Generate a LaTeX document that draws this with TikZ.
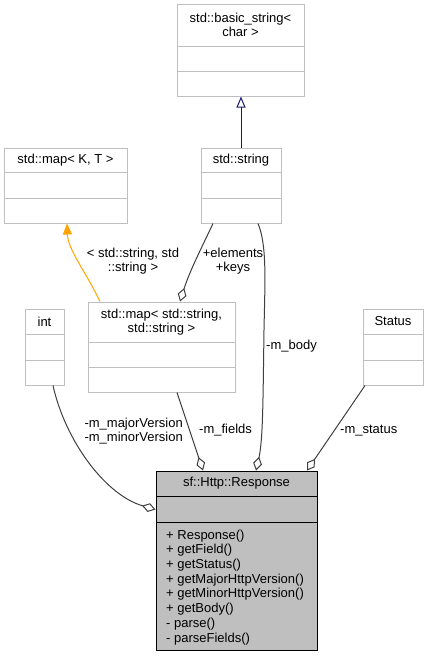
\documentclass[tikz,border=0pt]{standalone}
\usepackage{fontspec}
\setmainfont{Liberation Sans}
\usetikzlibrary{arrows.meta}
\definecolor{boxgray}{HTML}{BFBFBF}
\definecolor{edgegray}{HTML}{404040}
\definecolor{navyblue}{HTML}{191970}
\definecolor{orng}{HTML}{FFA500}
\newcommand{\umlclass}[8]{%
  \node[umlbox, minimum width={(#4-#2)*1pt}, minimum height={(#5-#3)*1pt}] (#1) at ({(#2+#4)/2},{(#3+#5)/2}) {};
  \draw[seppen] (#2,#6) -- (#4,#6);
  \draw[seppen] (#2,#7) -- (#4,#7);
  \node[labeltext, align=center] (#1-title) at ({(#2+#4)/2},{(#3+#6)/2}) {#8};
}
\begin{document}
\begin{tikzpicture}[x=1pt,y=-1pt,
  labeltext/.style={font=\fontsize{13}{14}\selectfont, inner sep=0pt},
  umlbox/.style={draw=boxgray, line width=1pt, fill=white, inner sep=0pt, rectangle},
  seppen/.style={draw=boxgray, line width=1pt},
  edge/.style={draw=edgegray, line width=1pt},
  aggr/.style={edge, -{Diamond[open, length=14pt, width=9pt]}},
]
\useasboundingbox[fill=white] (0,0) rectangle (428,656);

\umlclass{basic}{177}{4}{304}{96}{46}{71}{std::basic\_string<\\char >}
\umlclass{mapKT}{4}{148}{127}{223}{172}{198}{std::map< K, T >}
\umlclass{string}{201}{148}{281}{223}{172}{198}{std::string}
\umlclass{int}{25}{309}{64}{385}{334}{360}{int}
\umlclass{map2}{88}{302}{235}{392}{342}{367}{std::map< std::string,\\std::string >}
\umlclass{status}{363}{309}{423}{385}{334}{360}{Status}

% Response
\node[draw=black, fill=boxgray, line width=1pt, inner sep=0pt, minimum width=161pt, minimum height=179pt] (resp) at (236.5,560.5) {};
\draw[draw=black, line width=1pt] (156,496) -- (317,496);
\draw[draw=black, line width=1pt] (156,522) -- (317,522);
\node[labeltext] (resp-title) at (236.5,483.5) {sf::Http::Response};
\node[labeltext, align=left, anchor=north west, font=\fontsize{13}{14.7}\selectfont] (resp-ops) at (166,529.5)
 {+ Response()\\+ getField()\\+ getStatus()\\+ getMajorHttpVersion()\\+ getMinorHttpVersion()\\+ getBody()\\- parse()\\- parseFields()};

% inheritance
\draw[draw=navyblue, line width=1pt, -{Triangle[open, length=11pt, width=9pt]}] (string.north) -- (string.north |- basic.south);

% template instantiation
\draw[draw=orng, line width=1pt, -{Triangle[length=11pt, width=9pt]}] ([xshift=-61.5pt]map2.north) .. controls (86,272) and (68,250) .. ([xshift=1.5pt]mapKT.south);
\node[labeltext, align=center] (tmpl-label) at (133,261) {< std::string, std\\::string >};

% elements / keys
\draw[aggr] ([xshift=-28pt]string.south) .. controls (203,245) and (190,270) .. ([xshift=18.5pt]map2.north);
\node[labeltext, align=center] (ek-label) at (233,261) {+elements\\+keys};

% m_body
\draw[aggr] ([xshift=17pt]string.south) .. controls (267,245) and (265,280) .. (264,330) .. controls (263,400) and (263,440) .. ([xshift=19.5pt]resp.north);
\node[labeltext, anchor=west] (body-label) at (266,346.5) {-m\_body};

% int
\draw[aggr] ([xshift=8.5pt]int.south) .. controls (65,440) and (105,495) .. ([yshift=51pt]resp.west);
\node[labeltext, align=right, anchor=east] (int-label) at (183,431) {-m\_majorVersion\\-m\_minorVersion};

% m_fields
\draw[aggr] ([xshift=15.5pt]map2.south) -- ([xshift=-33.5pt]resp.north);
\node[labeltext, anchor=west] (fields-label) at (199,430.5) {-m\_fields};

% m_status
\draw[aggr] ([xshift=-28pt]status.south) -- ([xshift=70.5pt]resp.north);
\node[labeltext, anchor=west] (status-label) at (340,430.5) {-m\_status};
\end{tikzpicture}
\end{document}
